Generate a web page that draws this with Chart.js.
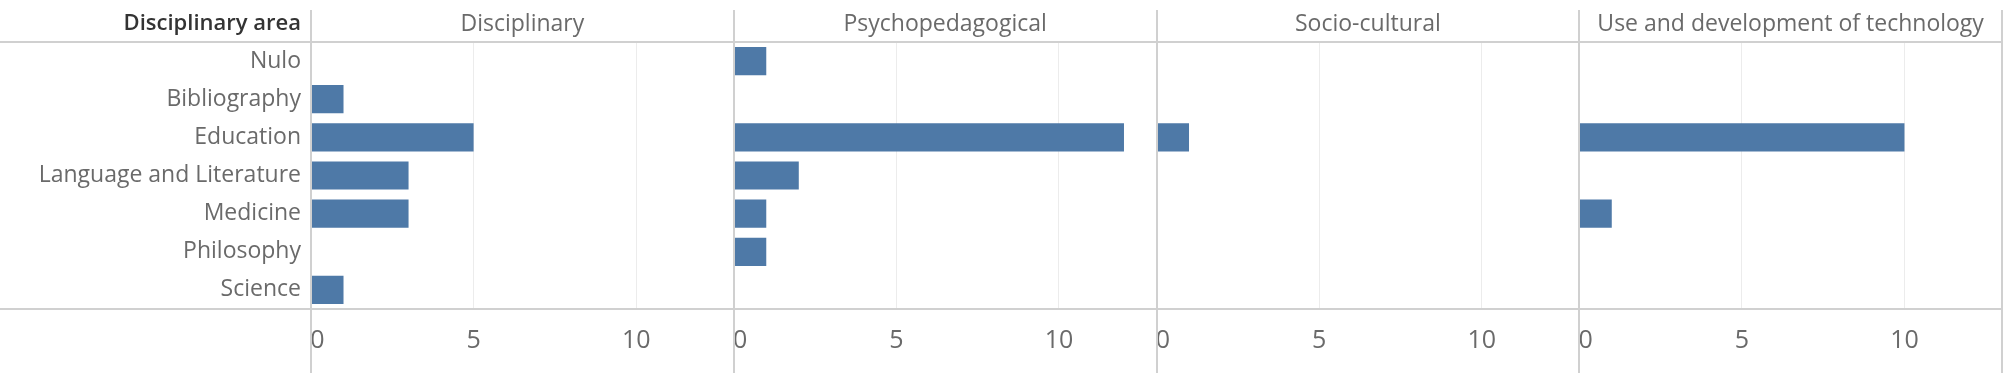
<!DOCTYPE html>
<html>
<head>
<meta charset="utf-8">
<script src="https://cdn.jsdelivr.net/npm/chart.js@4"></script>
<style>
  html, body { margin: 0; padding: 0; background: #fff; }
  #wrap { position: relative; width: 2008px; height: 373px; }
</style>
</head>
<body>
<div id="wrap"><canvas id="chart"></canvas></div>
<script>
// Rows and panel data.
const categories = ["Nulo", "Bibliography", "Education", "Language and Literature", "Medicine", "Philosophy", "Science"];
const panels = ["Disciplinary", "Psychopedagogical", "Socio-cultural", "Use and development of technology"];
const disciplinary = [0, 1, 5, 3, 3, 0, 1];
const psychopedagogical = [1, 0, 12, 2, 1, 1, 0];
const socioCultural = [0, 0, 1, 0, 0, 0, 0];
const technology = [0, 0, 10, 0, 1, 0, 0];
const xTicks = [0, 5, 10];
const xMax = 13;
const rowTitle = "Disciplinary area";

const FONT = "'Open Sans', sans-serif";
const COLORS = {
  bar: "#4e79a7",
  text: "#6a6a6a",
  header: "#333333",
  frame: "#d0d0d0",
  grid: "#ececec",
};

const HEADER_H = 42;
const LABEL_W = 311;
const AXIS_H = 64;

// Panel frame: header row, titles, separators and the bottom axis line.
const frame = {
  id: "frame",
  afterDraw(chart) {
    const { ctx, chartArea, scales } = chart;
    const ids = ["x0", "x1", "x2", "x3"];
    ctx.save();
    ctx.strokeStyle = COLORS.frame;
    ctx.lineWidth = 2;
    ctx.beginPath();
    ctx.moveTo(0, HEADER_H);
    ctx.lineTo(chartArea.right, HEADER_H);
    ctx.moveTo(0, chartArea.bottom);
    ctx.lineTo(chartArea.right, chartArea.bottom);
    const xs = ids.map((id) => scales[id].left).concat(scales.x3.right);
    for (const x of xs) {
      ctx.moveTo(Math.round(x), 10);
      ctx.lineTo(Math.round(x), chart.height);
    }
    ctx.stroke();

    ctx.textBaseline = "middle";
    ctx.font = `23px ${FONT}`;
    ctx.fillStyle = COLORS.text;
    ctx.textAlign = "center";
    ids.forEach((id, i) => {
      const s = scales[id];
      ctx.fillText(panels[i], (s.left + s.right) / 2, 24);
    });
    ctx.font = `600 22px ${FONT}`;
    ctx.fillStyle = COLORS.header;
    ctx.textAlign = "right";
    ctx.fillText(rowTitle, LABEL_W - 10, 24);
    ctx.restore();
  },
};

function panelAxis() {
  return {
    type: "linear",
    position: "bottom",
    stack: "panels",
    stackWeight: 1,
    min: 0,
    max: xMax,
    afterBuildTicks: (s) => { s.ticks = xTicks.map((v) => ({ value: v })); },
    afterFit: (s) => { s.height = AXIS_H; },
    border: { display: false },
    grid: {
      drawTicks: false,
      color: (c) => (c.tick && c.tick.value === 0 ? "rgba(0,0,0,0)" : COLORS.grid),
      lineWidth: 1,
    },
    ticks: {
      padding: 17,
      color: COLORS.text,
      font: { family: FONT, size: 25 },
      callback: (v) => (v === 0 ? "  0" : v),
    },
  };
}

const series = [disciplinary, psychopedagogical, socioCultural, technology];

new Chart(document.getElementById("chart"), {
  type: "bar",
  data: {
    labels: categories,
    datasets: series.map((values, i) => ({
      label: panels[i],
      data: values,
      xAxisID: "x" + i,
      backgroundColor: COLORS.bar,
      grouped: false,
      barPercentage: 0.74,
      categoryPercentage: 1,
    })),
  },
  options: {
    indexAxis: "y",
    responsive: true,
    maintainAspectRatio: false,
    animation: false,
    layout: { padding: { top: HEADER_H, right: 6, left: 0, bottom: 0 } },
    plugins: { legend: { display: false }, tooltip: { enabled: false } },
    scales: {
      y: {
        type: "category",
        afterFit: (s) => { s.width = LABEL_W; },
        border: { display: false },
        grid: { display: false, drawTicks: false },
        ticks: { padding: 10, color: COLORS.text, font: { family: FONT, size: 23 } },
      },
      x0: panelAxis(),
      x1: panelAxis(),
      x2: panelAxis(),
      x3: panelAxis(),
    },
  },
  plugins: [frame],
});
</script>
</body>
</html>
